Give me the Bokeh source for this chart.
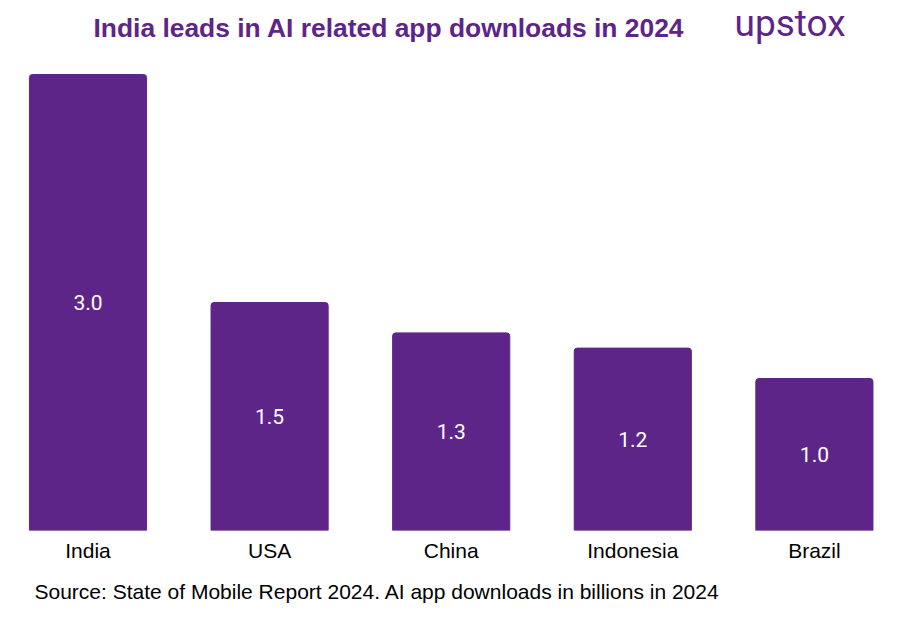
from bokeh.plotting import figure
from bokeh.models import Range1d, Label, ColumnDataSource, FixedTicker, Title
from bokeh.core.properties import value
from bokeh.embed import file_html
from bokeh.resources import INLINE

countries = ["India", "USA", "China", "Indonesia", "Brazil"]
downloads = [3.0, 1.5, 1.3, 1.2, 1.0]
value_labels = ["3.0", "1.5", "1.3", "1.2", "1.0"]

PURPLE = "#5E2589"

W, H = 895, 615
BASE = 530          # pixel row of the bars' base
BOTTOM = H - BASE
px_per_unit = 152.0
ymax = BASE / px_per_unit
px_per_cat = 181.6
x0 = -87.5 / px_per_cat
x1 = x0 + W / px_per_cat

def sx(px):  # pixel column -> data x
    return x0 + px / px_per_cat

def sy(py):  # pixel row -> data y
    return (BASE - py) / px_per_unit

xs = list(range(len(countries)))
src = ColumnDataSource(dict(x=xs, top=downloads, mid=[v / 2 for v in downloads], lab=value_labels))

p = figure(width=W, height=H, output_backend="svg", toolbar_location=None,
           x_range=Range1d(x0, x1), y_range=Range1d(0, ymax),
           min_border_left=0, min_border_right=0, min_border_top=0, min_border_bottom=BOTTOM)
p.outline_line_color = None
p.grid.visible = False
p.yaxis.visible = False
p.background_fill_color = "white"

p.vbar(x="x", top="top", bottom=0, width=0.645, source=src, fill_color=PURPLE,
       line_color=PURPLE, border_radius=(3, 3, 0, 0))
p.text(x="x", y="mid", text="lab", source=src, text_color="white",
       text_font=value("Roboto"), text_font_size="21px",
       text_align="center", text_baseline="middle")

ax = p.xaxis[0]
ax.ticker = FixedTicker(ticks=xs)
ax.major_label_overrides = {i: c for i, c in enumerate(countries)}
ax.axis_line_color = None
ax.major_tick_line_color = None
ax.minor_tick_line_color = None
ax.major_label_text_font = "Liberation Sans"
ax.major_label_text_font_size = "21px"
ax.major_label_text_color = "black"
ax.major_label_standoff = 2

p.add_layout(Label(x=sx(93), y=sy(27), text="India leads in AI related app downloads in 2024",
                   text_font="Liberation Sans", text_font_style="bold", text_font_size="26.4px",
                   text_color=PURPLE, text_baseline="middle", text_align="left"))
p.add_layout(Label(x=sx(734), y=sy(23), text="upstox",
                   text_font="Roboto", text_font_size="37px",
                   text_color=PURPLE, text_baseline="middle", text_align="left"))
p.add_layout(Title(text="Source: State of Mobile Report 2024. AI app downloads in billions in 2024",
                   text_font="Liberation Sans", text_font_style="normal", text_font_size="21px",
                   text_color="black", align="left", offset=34, standoff=26), "below")

open("out.html", "w").write(file_html(p, INLINE))
